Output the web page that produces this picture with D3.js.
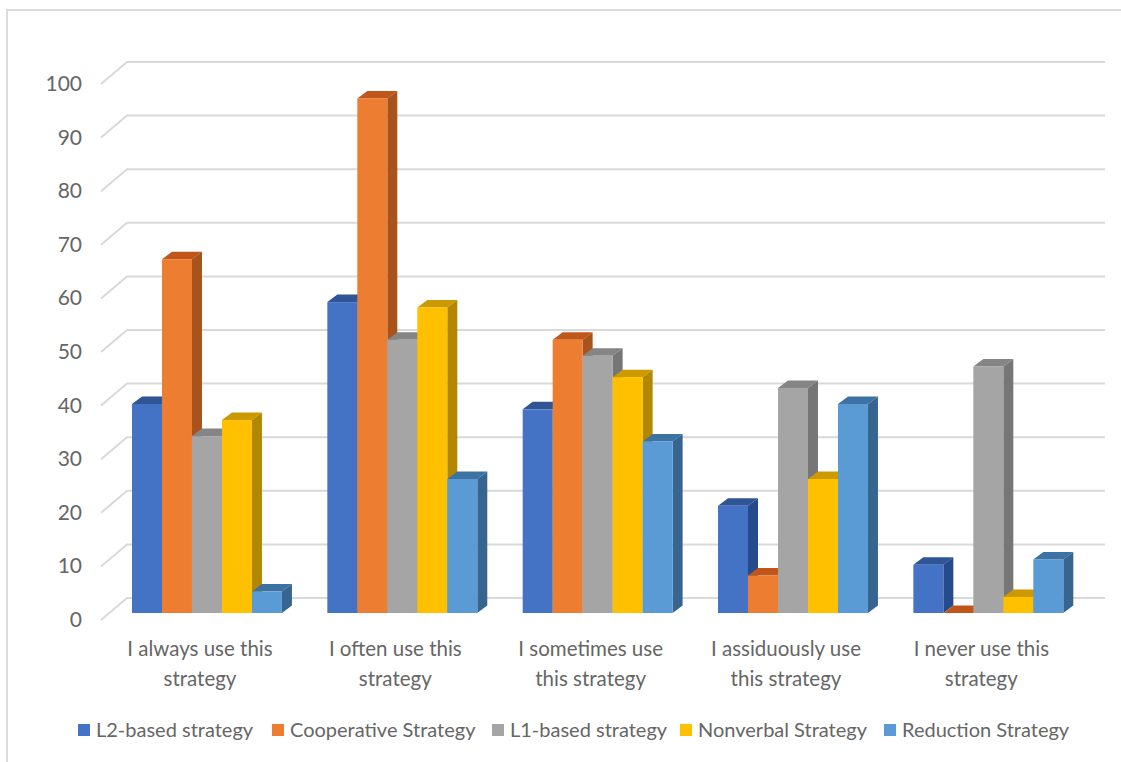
<!DOCTYPE html>
<html>
<head>
<meta charset="utf-8">
<script src="https://cdn.jsdelivr.net/npm/d3@7/dist/d3.min.js"></script>
<style>
html,body{margin:0;padding:0;background:#fff;}
svg{display:block;}
text{font-family:Lato,"Open Sans",sans-serif;fill:#666666;}
</style>
</head>
<body>
<svg id="chart" width="1121" height="762"></svg>
<script>
// Survey responses per strategy type
const categories = [
  "I always use this strategy",
  "I often use this strategy",
  "I sometimes use this strategy",
  "I assiduously use this strategy",
  "I never use this strategy"
];
const seriesNames = ["L2-based strategy","Cooperative Strategy","L1-based strategy","Nonverbal Strategy","Reduction Strategy"];
const l2Based     = [39,58,38,20,9];
const cooperative = [66,96,51,7,0];
const l1Based     = [33,51,48,42,46];
const nonverbal   = [36,57,44,25,3];
const reduction   = [4,25,32,39,10];
const seriesValues = [l2Based,cooperative,l1Based,nonverbal,reduction];
const yTicks = d3.range(0,101,10);

const frontColors = ["#4472c4","#ed7d31","#a5a5a5","#ffc000","#5b9bd5"];
const sideColors  = ["#264a8c","#a8531c","#767676","#b38700","#38658f"];
const topColors   = ["#2f5597","#c0561a","#858585","#cc9a00","#3d72a4"];

const svg = d3.select("#chart");

// Faint frame along the top and left edges
svg.append("path").attr("d","M7,762V10H1121").attr("fill","none").attr("stroke","#dcdcdc").attr("stroke-width",2);

// Floor-level (front) value scale; the back wall is the same scale shifted up and right
const y = d3.scaleLinear().domain([0,100]).range([613,77]);
const depthX = 10, depthY = 7.5;
const wallDx = 26, wallDy = 15;
const x0 = d3.scaleBand().domain(categories).range([109.3,1086]).paddingInner(0.2324).paddingOuter(0.1162);
const x1 = d3.scaleBand().domain(seriesNames).range([0,x0.bandwidth()]);

// Gridlines: slanted side-wall stub plus the horizontal back-wall line
const grid = svg.append("g").attr("fill","none").attr("stroke","#d9d9d9").attr("stroke-width",2);
yTicks.forEach(t=>{
  const py = y(t);
  grid.append("path").attr("d",`M101,${py+7}L${101+wallDx},${py-wallDy}H1105`);
});

// Value labels
svg.append("g").attr("font-size",21).attr("text-anchor","end")
  .selectAll("text").data(yTicks).join("text")
  .attr("x",82).attr("y",d=>y(d)+14).text(d=>d);

// Bars in 3-D: top, side, then front, left to right so each bar covers its neighbour's side
const barsLayer = svg.append("g");
categories.forEach((cat,ci)=>{
  seriesNames.forEach((name,si)=>{
    const v = seriesValues[si][ci];
    const l = x0(cat)+x1(name), w = x1.bandwidth(), t = y(v), b = y(0);
    const g = barsLayer.append("g");
    g.append("path").attr("fill",topColors[si])
      .attr("d",`M${l},${t}L${l+depthX},${t-depthY}H${l+w+depthX}L${l+w},${t}Z`);
    g.append("path").attr("fill",sideColors[si])
      .attr("d",`M${l+w},${t}L${l+w+depthX},${t-depthY}V${b-depthY}L${l+w},${b}Z`);
    g.append("rect").attr("fill",frontColors[si])
      .attr("x",l).attr("y",t).attr("width",w).attr("height",b-t);
  });
});

// Category labels on two lines
const labelLines = [
  ["I always use this","strategy"],
  ["I often use this","strategy"],
  ["I sometimes use","this strategy"],
  ["I assiduously use","this strategy"],
  ["I never use this","strategy"]
];
const catLabels = svg.append("g").attr("font-size",20.5).attr("text-anchor","middle");
categories.forEach((cat,i)=>{
  const cx = x0(cat)+x0.bandwidth()/2-7;
  labelLines[i].forEach((line,j)=>{
    catLabels.append("text").attr("x",cx).attr("y",656+j*30).text(line);
  });
});

// Legend
const legendSwatchX = [78,272,492,680,884];
const legend = svg.append("g");
seriesNames.forEach((name,i)=>{
  legend.append("rect").attr("x",legendSwatchX[i]).attr("y",724).attr("width",12).attr("height",12).attr("fill",frontColors[i]);
  legend.append("text").attr("x",legendSwatchX[i]+18).attr("y",737).attr("font-size",20).text(name);
});
</script>
</body>
</html>
